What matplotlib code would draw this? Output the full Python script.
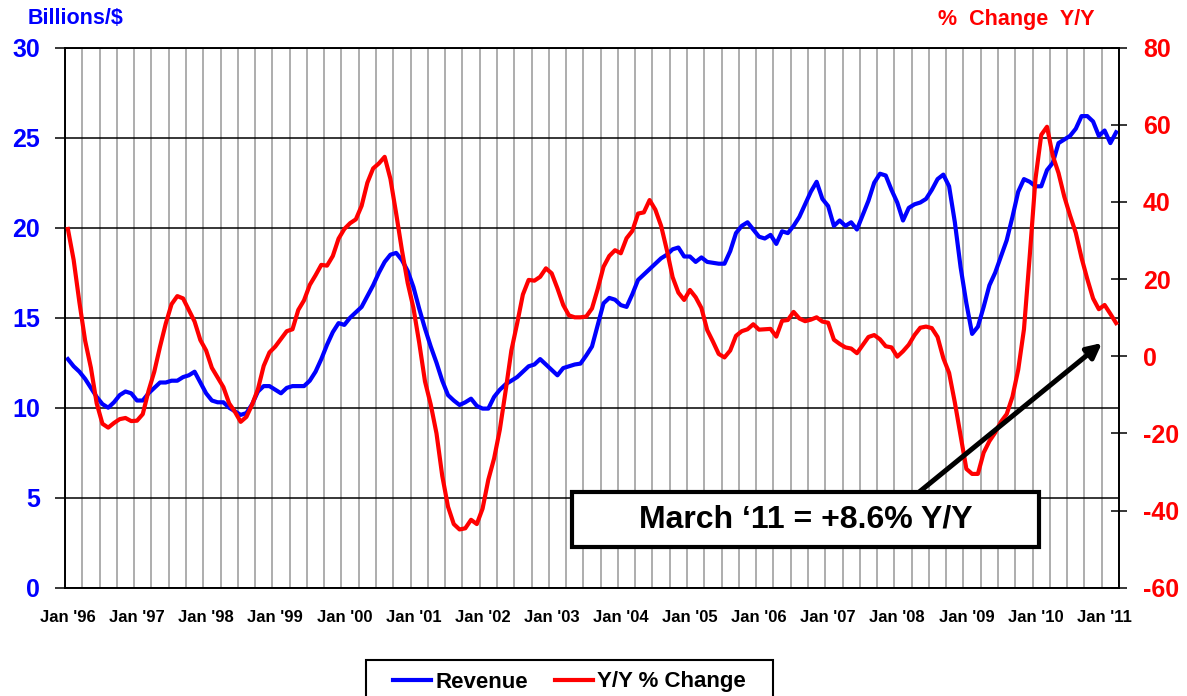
import matplotlib
matplotlib.use('Agg')
import matplotlib.pyplot as plt
from matplotlib.patches import Rectangle
import numpy as np

plt.rcParams['font.family'] = ['Liberation Sans', 'DejaVu Sans']
plt.rcParams['font.weight'] = 'bold'
plt.rcParams['axes.unicode_minus'] = False

# Monthly revenue, billions $ (Jan 1996 .. Mar 2011)
revenue = [
    12.7, 12.3, 12.0, 11.6, 11.1, 10.6, 10.2, 10.0, 10.3, 10.7, 10.9, 10.8,
    10.4, 10.4, 10.8, 11.1, 11.4, 11.4, 11.5, 11.5, 11.7, 11.8, 12.0, 11.4,
    10.8, 10.4, 10.3, 10.3, 10.0, 9.8, 9.6, 9.7, 10.2, 10.9, 11.2, 11.2,
    11.0, 10.8, 11.1, 11.2, 11.2, 11.2, 11.5, 12.0, 12.7, 13.5, 14.2, 14.7,
    14.6, 15.0, 15.3, 15.6, 16.2, 16.8, 17.5, 18.1, 18.5, 18.6, 18.2, 17.6,
    16.7, 15.5, 14.4, 13.4, 12.5, 11.5, 10.7, 10.4, 10.15, 10.3, 10.5, 10.1,
    9.95, 9.95, 10.6, 11.0, 11.3, 11.5, 11.7, 12.0, 12.3, 12.4, 12.7, 12.4,
    12.1, 11.8, 12.2, 12.3, 12.4, 12.45, 12.9, 13.4, 14.6, 15.8, 16.1, 16.0,
    15.7, 15.6, 16.3, 17.1, 17.4, 17.7, 18.0, 18.3, 18.5, 18.8, 18.9, 18.4,
    18.4, 18.1, 18.35, 18.1, 18.05, 18.0, 18.0, 18.7, 19.7, 20.1, 20.3, 19.9,
    19.5, 19.4, 19.6, 19.1, 19.8, 19.7, 20.1, 20.6, 21.3, 22.0, 22.55, 21.6,
    21.2, 20.1, 20.4, 20.1, 20.3, 19.9, 20.7, 21.5, 22.5, 23.0, 22.9, 22.1,
    21.4, 20.4, 21.1, 21.3, 21.4, 21.6, 22.1, 22.7, 22.95, 22.3, 20.3, 17.8,
    15.8, 14.1, 14.5, 15.6, 16.8, 17.5, 18.4, 19.3, 20.6, 22.0, 22.7, 22.55,
    22.3, 22.3, 23.2, 23.6, 24.7, 24.9, 25.1, 25.5, 26.2, 26.2, 25.9, 25.1,
    25.4, 24.7, 25.3,
]

# Year-over-year % change
yoy = [
    33.0, 25.0, 14.0, 4.0, -3.0, -12.2, -17.5, -18.5, -17.3, -16.3, -16.0, -16.8,
    -16.7, -15.0, -9.0, -4.0, 2.5, 8.5, 13.5, 15.6, 15.0, 12.0, 9.0, 4.2,
    1.5, -3.0, -5.5, -8.0, -12.2, -14.4, -17.0, -15.7, -12.5, -8.5, -2.5, 1.0,
    2.5, 4.5, 6.5, 7.0, 12.0, 14.5, 18.5, 21.0, 23.7, 23.5, 26.0, 30.5,
    33.0, 34.5, 35.5, 39.0, 45.0, 48.7, 50.0, 51.7, 46.0, 37.0, 27.5, 19.0,
    12.5, 3.5, -6.5, -12.5, -20.0, -31.0, -39.0, -43.5, -44.9, -44.6, -42.4, -43.5,
    -39.5, -32.0, -26.5, -19.0, -9.0, 1.5, 8.5, 16.0, 19.8, 19.6, 20.6, 22.8,
    21.5, 17.6, 13.3, 10.6, 10.1, 10.1, 10.3, 12.4, 17.5, 23.2, 26.0, 27.5,
    26.7, 30.6, 32.5, 37.0, 37.3, 40.5, 38.0, 33.8, 27.5, 20.5, 16.5, 14.6,
    17.2, 15.3, 12.5, 6.8, 3.8, 0.6, -0.3, 1.5, 5.3, 6.5, 7.0, 8.3,
    6.9, 7.0, 7.1, 5.1, 9.2, 9.4, 11.5, 9.8, 9.1, 9.5, 10.1, 9.0,
    8.7, 4.3, 3.2, 2.3, 2.0, 0.8, 2.9, 5.0, 5.5, 4.4, 2.6, 2.3,
    -0.1, 1.3, 3.0, 5.5, 7.4, 7.7, 7.3, 5.0, -0.5, -4.3, -12.0, -20.6,
    -29.2, -30.5, -30.5, -25.0, -22.0, -19.8, -17.0, -15.0, -10.5, -3.5, 7.0, 26.0,
    46.0, 57.4, 59.5, 52.0, 47.5, 41.4, 36.5, 32.0, 25.5, 20.0, 15.0, 12.2,
    13.3, 11.0, 8.6,
]

x_labels = ["Jan '96", "Jan '97", "Jan '98", "Jan '99", "Jan '00", "Jan '01",
            "Jan '02", "Jan '03", "Jan '04", "Jan '05", "Jan '06", "Jan '07",
            "Jan '08", "Jan '09", "Jan '10", "Jan '11"]
left_ticks = [0, 5, 10, 15, 20, 25, 30]
right_ticks = [-60, -40, -20, 0, 20, 40, 60, 80]

BLUE = '#0000FF'
RED = '#FF0000'

W, H = 1187, 696
fig = plt.figure(figsize=(W / 100, H / 100), dpi=100)
L, R, T, B = 65, 1119, 47.7, 587.7
ax = fig.add_axes([L / W, 1 - B / H, (R - L) / W, (B - T) / H])
ax2 = ax.twinx()

months = np.arange(len(revenue))
ln1, = ax.plot(months, revenue, color=BLUE, lw=3.0, solid_joinstyle='round', zorder=3)
ln2, = ax2.plot(months, yoy, color=RED, lw=3.0, solid_joinstyle='round', zorder=3)

ax.set_xlim(-0.5, len(revenue) - 0.5)
ax.set_ylim(left_ticks[0], left_ticks[-1])
ax2.set_ylim(right_ticks[0], right_ticks[-1])

ax.set_xticks(months[::12])
ax.set_xticklabels(x_labels)
ax.set_xticks(np.arange(-0.5, len(revenue), 3), minor=True)
ax.set_yticks(left_ticks)
ax2.set_yticks(right_ticks)

ax.grid(axis='x', which='minor', color='#a0a0a0', lw=1.2, zorder=0)
ax.grid(axis='y', which='major', color='black', lw=1.1, zorder=1)
ax.set_axisbelow(True)

ax.tick_params(axis='x', which='both', length=0, pad=16, labelsize=12)
ax.tick_params(axis='y', length=7, width=1.1, direction='out', pad=11,
               labelsize=18, labelcolor=BLUE)
ax2.tick_params(axis='y', length=11.5, width=1.1, direction='inout', pad=11.5,
                labelsize=18, labelcolor=RED)

for a in (ax, ax2):
    for s in a.spines.values():
        s.set_color('black')
        s.set_linewidth(1.2)

fig.text(27.5 / W, 1 - 19 / H, 'Billions/$', color=BLUE, fontsize=15.5,
         ha='left', va='center')
fig.text(938 / W, 1 - 19 / H, '%  Change  Y/Y', color=RED, fontsize=15.5,
         ha='left', va='center')

# annotation box
bx0, bx1, by0, by1 = 572, 1039, 492, 547
rect = Rectangle(((bx0 - L) / (R - L), (B - by1) / (B - T)),
                 (bx1 - bx0) / (R - L), (by1 - by0) / (B - T),
                 transform=ax2.transAxes, facecolor='white', edgecolor='black',
                 lw=3, zorder=10, clip_on=False)
ax2.add_patch(rect)
ax2.text(((bx0 + bx1) / 2 - L) / (R - L), (B - (by0 + by1) / 2) / (B - T),
         'March \u201811 = +8.6% Y/Y', transform=ax2.transAxes,
         ha='center', va='center', fontsize=23, color='black', zorder=11)
ax2.annotate('', xy=((1102 - L) / (R - L), (B - 343) / (B - T)),
             xytext=((918 - L) / (R - L), (B - 493) / (B - T)),
             xycoords='axes fraction', textcoords='axes fraction',
             arrowprops=dict(arrowstyle='-|>', lw=3.6, color='black',
                             mutation_scale=22, shrinkA=0, shrinkB=0),
             zorder=9)

# legend frame (extends past the bottom edge of the figure) + legend content
fig.patches.append(Rectangle((366 / W, 1 - 705 / H), (773 - 366) / W, 45 / H,
                             transform=fig.transFigure, facecolor='white',
                             edgecolor='black', lw=1.5))
leg = fig.legend([ln1, ln2], ['Revenue', 'Y/Y % Change'], loc='center',
                 bbox_to_anchor=(569.5 / W, 1 - 682 / H), ncol=2, fontsize=16,
                 frameon=False, handlelength=1.7, handletextpad=0.2,
                 columnspacing=1.2, borderpad=0.0, borderaxespad=0)

fig.savefig('out.png', dpi=100)
